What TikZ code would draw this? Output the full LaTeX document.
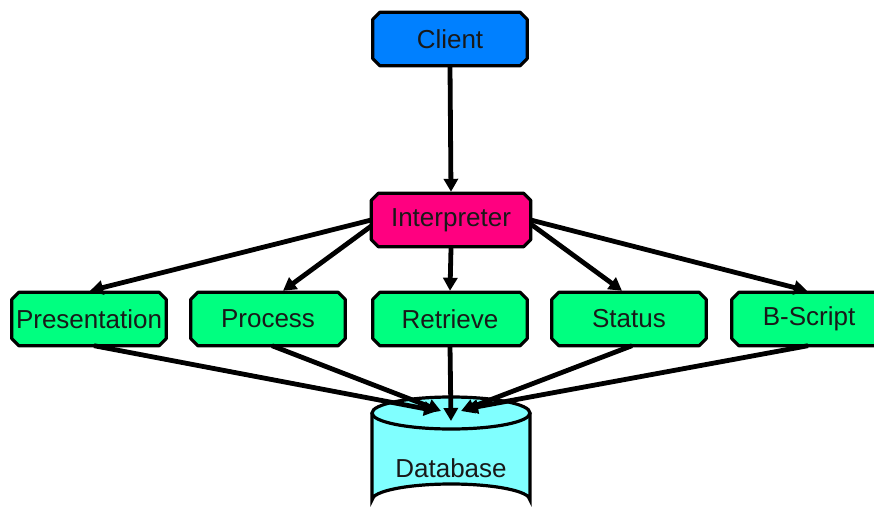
\documentclass[tikz,border=0pt]{standalone}
\usepackage{fontspec}
\setmainfont{Liberation Sans}
\usetikzlibrary{arrows.meta}
\definecolor{cblue}{RGB}{0,128,255}
\definecolor{cmag}{RGB}{255,0,128}
\definecolor{cgreen}{RGB}{0,255,128}
\definecolor{ccyan}{RGB}{128,255,255}
\tikzset{
  box/.style={rectangle, draw=none, minimum width=#1, minimum height=53pt,
    inner sep=0pt, font=\fontsize{26}{29}\selectfont, text=black!90},
  box/.default=154pt,
  arr/.style={line width=4.8pt, -{Triangle[length=13pt,width=14pt]}},
}
% chamfered outline behind a node: \cbox{name}{fill}
\newcommand\cbox[2]{%
  \path[fill=#2, draw=black, line width=3.2pt, line join=round]
    ([xshift=7pt]#1.north west) -- ([xshift=-7pt]#1.north east)
    -- ([yshift=-7pt]#1.north east) -- ([yshift=7pt]#1.south east)
    -- ([xshift=-7pt]#1.south east) -- ([xshift=7pt]#1.south west)
    -- ([yshift=7pt]#1.south west) -- ([yshift=-7pt]#1.north west) -- cycle;
}
\begin{document}
\begin{tikzpicture}[x=1pt,y=-1pt]
\useasboundingbox (0,0) rectangle (874,508);
\clip (0,0) rectangle (874,508);
\fill[white] (0,0) rectangle (874,508);
% database cylinder
\fill[ccyan] (372,413) -- (372,500) arc[start angle=180,end angle=360,x radius=79,y radius=16] -- (530,413) -- cycle;
\fill[ccyan] (451,413) ellipse[x radius=79,y radius=16];
\draw[line width=3.2pt] (372,413) -- (372,500) arc[start angle=180,end angle=360,x radius=79,y radius=16] -- (530,413);
\draw[line width=3.2pt] (451,413) ellipse[x radius=79,y radius=16];
\node[font=\fontsize{26}{29}\selectfont, text=black!90] (db) at (451,468) {Database};
\coordinate (db1) at (437,411);
\coordinate (db2) at (441,411);
\coordinate (db3) at (451,421);
\coordinate (db4) at (461,411);
\coordinate (db5) at (465,409);
% nodes
\node[box] (client) at (450,39) {\phantom{Client}};
\node[box=159pt] (interp) at (451,220) {\phantom{Interpreter}};
\node[box] (pres) at (89,319) {\phantom{Presentation}};
\node[box] (proc) at (268,319) {\phantom{Process}};
\node[box] (retr) at (450,319) {\phantom{Retrieve}};
\node[box] (stat) at (629,319) {\phantom{Status}};
\node[box] (bscr) at (809,319) {\phantom{B-Script}};
\cbox{client}{cblue}
\cbox{interp}{cmag}
\cbox{pres}{cgreen}
\cbox{proc}{cgreen}
\cbox{retr}{cgreen}
\cbox{stat}{cgreen}
\cbox{bscr}{cgreen}
\path[font=\fontsize{26}{29}\selectfont, text=black!90]
  (client) node {Client}
  (interp) node {Interpreter}
  (pres) node {Presentation}
  (proc) node {Process}
  (retr) node {Retrieve}
  (stat) node {Status}
  (bscr) node {B-Script};
% connectors
\draw[arr] ([yshift=-1.5pt]client.south) -- ([yshift=1.5pt]interp.north);
\draw[arr] (interp.west) -- ([xshift=1pt,yshift=1.5pt]pres.north);
\draw[arr] ([yshift=-6pt]interp.west) -- ([xshift=15pt,yshift=1.5pt]proc.north);
\draw[arr] ([yshift=-1.5pt]interp.south) -- ([yshift=1.5pt]retr.north);
\draw[arr] ([yshift=-4pt]interp.east) -- ([xshift=-7pt,yshift=1.5pt]stat.north);
\draw[arr] (interp.east) -- ([xshift=-2pt,yshift=1.5pt]bscr.north);
\draw[arr] ([xshift=5pt]pres.south) -- (db1);
\draw[arr] ([xshift=4pt]proc.south) -- (db2);
\draw[arr] (retr.south) -- (db3);
\draw[arr] ([xshift=3pt]stat.south) -- (db4);
\draw[arr] ([xshift=-1pt]bscr.south) -- (db5);
\end{tikzpicture}
\end{document}
